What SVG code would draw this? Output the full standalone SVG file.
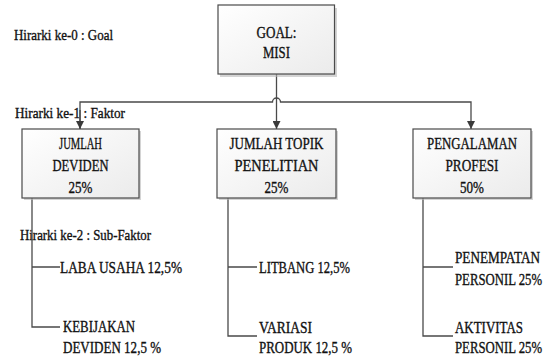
<svg xmlns="http://www.w3.org/2000/svg" width="551" height="360" viewBox="0 0 551 360">
  <style>
    .box { fill: url(#boxFill); stroke: #4a4a4a; stroke-width: 1.2; }
    .shadow { fill: #b8b8b8; opacity: 0.6; }
    .t { font-family: "Liberation Serif", "Times New Roman", "DejaVu Serif", serif; fill: #111111; stroke: #111111; stroke-width: 0.35; }
    .bt { font-size: 17px; text-anchor: middle; }
    .st { font-size: 16px; }
    .ht { font-size: 15px; }
    .ln { fill: none; stroke: #4a4a4a; stroke-width: 1.3; }
  </style>
  <defs>
    <linearGradient id="boxFill" x1="0" y1="0" x2="1" y2="1">
      <stop offset="0" stop-color="#ffffff"/>
      <stop offset="1" stop-color="#ebebeb"/>
    </linearGradient>
    <marker id="arrow" viewBox="0 0 10 10" refX="10" refY="5" markerWidth="8" markerHeight="8" markerUnits="userSpaceOnUse" orient="auto">
      <path d="M0,0 L10,5 L0,10 Z" fill="#3a3a3a"/>
    </marker>
  </defs>
  <rect width="551" height="360" fill="#ffffff"/>

  <!-- level captions -->
  <text class="t ht" x="14" y="40" textLength="99" lengthAdjust="spacingAndGlyphs">Hirarki ke-0 : Goal</text>
  <text class="t ht" x="15" y="118" textLength="110" lengthAdjust="spacingAndGlyphs">Hirarki ke-1 : Faktor</text>
  <text class="t ht" x="20" y="240" textLength="131" lengthAdjust="spacingAndGlyphs">Hirarki ke-2 : Sub-Faktor</text>

  <!-- connectors -->
  <g id="connectors">
    <!-- goal to middle factor -->
    <path class="ln" d="M276.5,74 L276.5,129" marker-end="url(#arrow)"/>
    <!-- bus with hop over the goal line -->
    <path class="ln" d="M80,129 L80,102 L272.5,102 A4,4 0 0 1 280.5,102 L471,102 L471,129" marker-end="url(#arrow)"/>
    <path class="ln" d="M80,110 L80,129" marker-end="url(#arrow)"/>
    <!-- sub-factor trees -->
    <path class="ln" d="M32,198 L32,327 L60,327 M32,267 L60,267"/>
    <path class="ln" d="M228,198 L228,336 L257,336 M228,267 L257,267"/>
    <path class="ln" d="M423,198 L423,336 L453,336 M423,267 L453,267"/>
  </g>

  <!-- goal -->
  <g id="goal">
    <rect class="shadow" x="220" y="8" width="117" height="69"/>
    <rect class="box" x="218" y="5" width="116.5" height="69"/>
    <text class="t bt" x="276.5" y="38" textLength="40" lengthAdjust="spacingAndGlyphs">GOAL:</text>
    <text class="t bt" x="276.5" y="58" textLength="27" lengthAdjust="spacingAndGlyphs">MISI</text>
  </g>

  <!-- factors -->
  <g id="jumlah-deviden">
    <rect class="shadow" x="24" y="131" width="117" height="69"/>
    <rect class="box" x="22" y="129" width="117" height="69"/>
    <text class="t bt" x="80.5" y="149" textLength="43" lengthAdjust="spacingAndGlyphs">JUMLAH</text>
    <text class="t bt" x="80.5" y="170.5" textLength="56" lengthAdjust="spacingAndGlyphs">DEVIDEN</text>
    <text class="t bt" x="80.5" y="192.5" textLength="24" lengthAdjust="spacingAndGlyphs">25%</text>
  </g>
  <g id="jumlah-topik">
    <rect class="shadow" x="219" y="131" width="119" height="69"/>
    <rect class="box" x="217" y="129" width="119" height="69"/>
    <text class="t bt" x="276.5" y="149" textLength="94" lengthAdjust="spacingAndGlyphs">JUMLAH TOPIK</text>
    <text class="t bt" x="276.5" y="170.5" textLength="84" lengthAdjust="spacingAndGlyphs">PENELITIAN</text>
    <text class="t bt" x="276.5" y="192.5" textLength="24" lengthAdjust="spacingAndGlyphs">25%</text>
  </g>
  <g id="pengalaman-profesi">
    <rect class="shadow" x="415" y="131" width="118" height="69"/>
    <rect class="box" x="413" y="129" width="118" height="69"/>
    <text class="t bt" x="472" y="149" textLength="90" lengthAdjust="spacingAndGlyphs">PENGALAMAN</text>
    <text class="t bt" x="472" y="170.5" textLength="53" lengthAdjust="spacingAndGlyphs">PROFESI</text>
    <text class="t bt" x="472" y="192.5" textLength="24" lengthAdjust="spacingAndGlyphs">50%</text>
  </g>

  <!-- sub-factors -->
  <g id="laba-usaha">
    <text class="t st" x="60" y="272.5" textLength="122" lengthAdjust="spacingAndGlyphs">LABA USAHA 12,5%</text>
  </g>
  <g id="kebijakan-deviden">
    <text class="t st" x="63" y="331.5" textLength="72" lengthAdjust="spacingAndGlyphs">KEBIJAKAN</text>
    <text class="t st" x="63" y="352.5" textLength="98" lengthAdjust="spacingAndGlyphs">DEVIDEN 12,5 %</text>
  </g>
  <g id="litbang">
    <text class="t st" x="259" y="272.5" textLength="91" lengthAdjust="spacingAndGlyphs">LITBANG 12,5%</text>
  </g>
  <g id="variasi-produk">
    <text class="t st" x="259" y="332.5" textLength="53" lengthAdjust="spacingAndGlyphs">VARIASI</text>
    <text class="t st" x="259" y="352.5" textLength="93" lengthAdjust="spacingAndGlyphs">PRODUK 12,5 %</text>
  </g>
  <g id="penempatan-personil">
    <text class="t st" x="455" y="262.5" textLength="85" lengthAdjust="spacingAndGlyphs">PENEMPATAN</text>
    <text class="t st" x="455" y="284.5" textLength="87" lengthAdjust="spacingAndGlyphs">PERSONIL 25%</text>
  </g>
  <g id="aktivitas-personil">
    <text class="t st" x="455" y="332.5" textLength="68" lengthAdjust="spacingAndGlyphs">AKTIVITAS</text>
    <text class="t st" x="455" y="352.5" textLength="87" lengthAdjust="spacingAndGlyphs">PERSONIL 25%</text>
  </g>
</svg>
